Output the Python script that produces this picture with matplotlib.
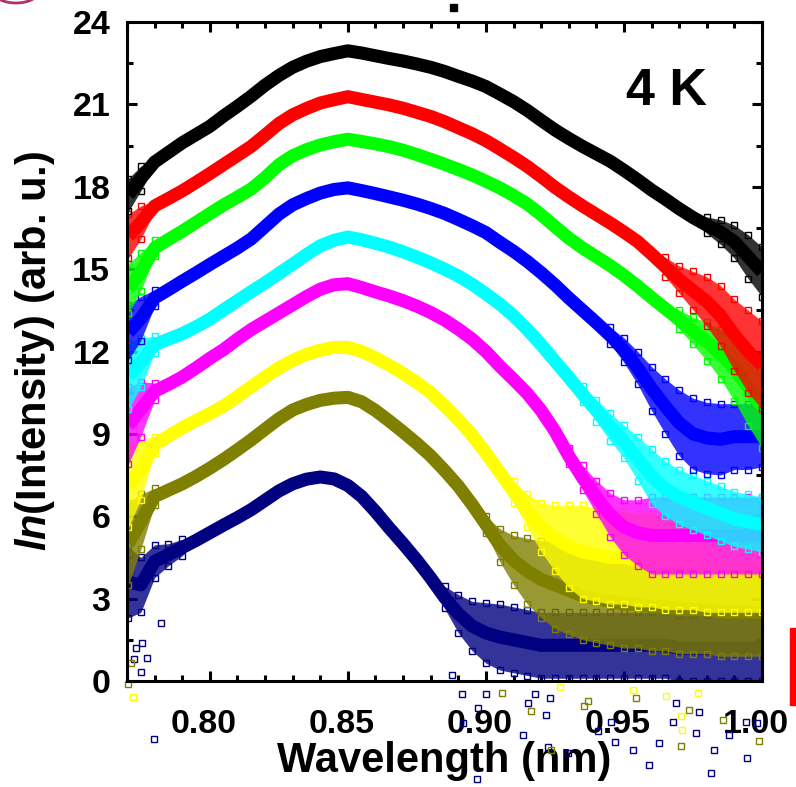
import matplotlib
matplotlib.use('Agg')
import matplotlib.pyplot as plt
import numpy as np
from matplotlib.ticker import MultipleLocator, FixedLocator
from matplotlib.transforms import ScaledTranslation
from matplotlib.patches import Rectangle, Ellipse

plt.rcParams['font.family'] = ['Liberation Sans', 'DejaVu Sans']
plt.rcParams['font.weight'] = 'bold'
plt.rcParams['mathtext.fontset'] = 'custom'
plt.rcParams['mathtext.it'] = 'Liberation Sans:italic:bold'
plt.rcParams['mathtext.rm'] = 'Liberation Sans:bold'
plt.rcParams['mathtext.bf'] = 'Liberation Sans:bold'

# ---------------- data ----------------
wavelength = [0.7705, 0.775, 0.78, 0.785, 0.79, 0.795, 0.80, 0.805, 0.81, 0.815,
              0.82, 0.825, 0.83, 0.835, 0.84, 0.845, 0.85, 0.855, 0.86, 0.865,
              0.87, 0.875, 0.88, 0.885, 0.89, 0.895, 0.90, 0.905, 0.91, 0.915,
              0.92, 0.925, 0.93, 0.935, 0.94, 0.945, 0.95, 0.955, 0.96, 0.965,
              0.97, 0.975, 0.98, 0.985, 0.99, 0.995, 1.00]

black = [17.7, 18.3, 18.9, 19.25, 19.6, 19.9, 20.2, 20.58, 20.93, 21.3,
         21.7, 22.05, 22.35, 22.57, 22.74, 22.85, 22.95, 22.87, 22.77, 22.67,
         22.58, 22.47, 22.35, 22.2, 22.02, 21.85, 21.65, 21.38, 21.1, 20.78,
         20.42, 20.07, 19.76, 19.47, 19.2, 18.93, 18.6, 18.25, 17.88, 17.55,
         17.2, 16.88, 16.6, 16.35, 16.0, 15.45, 14.9]
red = [16.2, 16.7, 17.3, 17.57, 17.85, 18.16, 18.48, 18.81, 19.14, 19.47,
       19.88, 20.3, 20.62, 20.85, 21.05, 21.17, 21.28, 21.18, 21.08, 20.98,
       20.86, 20.71, 20.56, 20.37, 20.15, 19.93, 19.68, 19.38, 19.07, 18.74,
       18.37, 17.98, 17.63, 17.3, 16.99, 16.68, 16.35, 16.0, 15.55, 15.08,
       14.62, 14.22, 13.82, 13.3, 12.6, 12.0, 11.5]
green = [14.3, 14.9, 15.77, 16.08, 16.38, 16.7, 17.02, 17.34, 17.62, 17.92,
         18.33, 18.8, 19.13, 19.35, 19.52, 19.64, 19.73, 19.65, 19.56, 19.46,
         19.33, 19.17, 19.0, 18.82, 18.63, 18.43, 18.2, 17.96, 17.68, 17.37,
         16.98, 16.55, 16.13, 15.77, 15.45, 15.13, 14.77, 14.38, 13.96, 13.56,
         13.16, 12.76, 12.36, 11.9, 11.4, 10.7, 10.0]
blue = [12.7, 13.2, 13.95, 14.25, 14.56, 14.86, 15.17, 15.47, 15.77, 16.1,
        16.55, 17.0, 17.34, 17.57, 17.77, 17.9, 17.96, 17.86, 17.75, 17.63,
        17.51, 17.37, 17.21, 17.03, 16.81, 16.58, 16.33, 15.98, 15.65, 15.28,
        14.87, 14.43, 13.95, 13.5, 13.05, 12.58, 12.05, 11.4, 10.65, 10.0,
        9.4, 9.0, 8.85, 8.8, 8.9, 8.9, 8.9]
cyan = [11.1, 11.6, 12.25, 12.45, 12.65, 12.9, 13.18, 13.52, 13.85, 14.18,
        14.5, 14.84, 15.18, 15.53, 15.85, 16.05, 16.17, 16.07, 15.94, 15.8,
        15.63, 15.44, 15.23, 15.0, 14.75, 14.45, 14.1, 13.73, 13.3, 12.8,
        12.25, 11.65, 11.06, 10.45, 9.85, 9.25, 8.72, 8.1, 7.45, 7.0,
        6.7, 6.5, 6.3, 6.1, 5.9, 5.8, 5.7]
magenta = [9.3, 9.9, 10.55, 10.8, 11.07, 11.4, 11.75, 12.07, 12.45, 12.8,
           13.1, 13.4, 13.7, 14.0, 14.27, 14.43, 14.47, 14.33, 14.17, 14.02,
           13.85, 13.65, 13.42, 13.15, 12.82, 12.45, 12.0, 11.47, 10.98, 10.47,
           9.85, 9.1, 8.2, 7.4, 6.7, 6.05, 5.6, 5.4, 5.3, 5.3,
           5.3, 5.3, 5.3, 5.3, 5.3, 5.3, 5.3]
yellow = [7.1, 7.7, 8.6, 8.92, 9.22, 9.49, 9.74, 10.02, 10.36, 10.72,
          11.07, 11.4, 11.68, 11.89, 12.05, 12.15, 12.15, 12.0, 11.77, 11.5,
          11.2, 10.87, 10.5, 10.03, 9.52, 8.95, 8.3, 7.6, 6.9, 6.2,
          5.6, 5.2, 4.9, 4.7, 4.6, 4.5, 4.5, 4.4, 4.4, 4.3,
          4.3, 4.3, 4.2, 4.2, 4.2, 4.2, 4.2]
olive = [5.0, 5.8, 6.72, 6.95, 7.18, 7.45, 7.75, 8.07, 8.42, 8.78,
         9.17, 9.55, 9.87, 10.07, 10.22, 10.3, 10.33, 10.17, 9.85, 9.47,
         9.07, 8.65, 8.2, 7.67, 7.1, 6.43, 5.7, 4.95, 4.4, 4.0,
         3.7, 3.5, 3.3, 3.1, 3.0, 2.9, 2.8, 2.8, 2.7, 2.7,
         2.6, 2.6, 2.6, 2.5, 2.5, 2.5, 2.5]
navy = [3.6, 3.5, 4.36, 4.6, 4.86, 5.12, 5.4, 5.68, 5.95, 6.24,
        6.58, 6.92, 7.18, 7.35, 7.43, 7.36, 7.12, 6.72, 6.17, 5.57,
        5.0, 4.4, 3.75, 3.05, 2.45, 2.0, 1.75, 1.6, 1.5, 1.4,
        1.3, 1.3, 1.3, 1.3, 1.3, 1.3, 1.3, 1.3, 1.3, 1.3,
        1.2, 1.2, 1.2, 1.2, 1.2, 1.2, 1.2]

# half-width of the noisy scatter cloud around each curve
black_spread = [0.6, 0.45, 0.15] + [0] * 38 + [0.1, 0.3, 0.45, 0.6, 0.8, 0.9]
red_spread = [0.8, 0.6, 0.2] + [0] * 35 + [0.2, 0.35, 0.5, 0.7, 0.9, 1.1, 1.3, 1.5, 1.6]
green_spread = [0.9, 0.7, 0.3] + [0] * 36 + [0.2, 0.35, 0.5, 0.7, 0.9, 1.2, 1.4, 1.5]
blue_spread = [1.0, 0.8, 0.3] + [0] * 31 + [0.2, 0.3, 0.45, 0.6, 0.8, 1.0, 1.2, 1.3, 1.3, 1.3, 1.2, 1.2, 1.1]
cyan_spread = [1.2, 0.9, 0.3] + [0] * 29 + [0.2, 0.3, 0.4, 0.5, 0.6, 0.8, 1.0, 1.0, 1.0, 1.0, 1.0, 1.0, 1.0, 1.0, 1.0]
magenta_spread = [1.4, 1.0, 0.3] + [0] * 28 + [0.2, 0.3, 0.45, 0.6, 0.8, 1.0, 1.2, 1.4, 1.4, 1.4, 1.4, 1.4, 1.4, 1.4, 1.4, 1.4]
yellow_spread = [1.5, 1.1, 0.3] + [0] * 24 + [0.2, 0.4, 0.6, 0.9, 1.2, 1.5] + [1.7] * 14
olive_spread = [1.5, 1.0, 0.3] + [0] * 23 + [0.3, 0.6, 0.9, 1.2, 1.4] + [1.6] * 16
navy_spread = [1.3, 1.0, 0.6, 0.4, 0.3] + [0] * 17 + [0.2, 0.4, 0.7, 0.9, 1.1] + [1.2] * 20

# isolated outlier points
navy_out_x = [0.8876, 0.8912, 0.9000, 0.8970, 0.8918, 0.9134, 0.9177, 0.9153, 0.9216, 0.9231,
              0.9225, 0.9297, 0.9405, 0.9454, 0.9466, 0.9532, 0.9592, 0.9628, 0.9689, 0.9676,
              0.9773, 0.9761, 0.9827, 0.9815, 0.9881, 0.9941, 0.9947, 0.9983, 0.8968, 0.7798,
              0.7822, 0.7750, 0.7774, 0.7732, 0.7756, 0.7725]
navy_out_y = [0.22, -0.47, -0.48, -1.0, -1.54, -1.97, -0.49, -0.81, -1.24, -0.63,
              -2.39, -2.63, -1.82, -1.48, -2.21, -2.51, -3.06, -2.27, -0.81, -1.48,
              -1.12, -1.91, -2.51, -3.36, -1.97, -1.48, -2.82, -1.54, -3.58, -2.12,
              2.12, 0.34, 0.83, 1.19, 1.37, 0.79]
olive_out_x = [0.9060, 0.9165, 0.9369, 0.9357, 0.9234, 0.9707, 0.9737, 0.9857, 0.9989, 0.9544, 0.7702, 0.7714]
olive_out_y = [-0.45, -1.08, -0.73, -0.91, -2.51, -2.37, -1.06, -1.42, -2.19, -0.63, -0.12, 0.64]
yellow_out_x = [0.9267, 0.9532, 0.9652, 0.9712, 0.9767, 0.9707, 0.7722]
yellow_out_y = [-0.23, -0.33, -0.53, -1.79, -0.45, -1.26, -0.58]

x_ticks = [0.80, 0.85, 0.90, 0.95, 1.00]
x_ticklabels = ['0.80', '0.85', '0.90', '0.95', '1.00']
y_ticks = [0, 3, 6, 9, 12, 15, 18, 21, 24]

# ---------------- figure ----------------
fig = plt.figure(figsize=(7.96, 7.87), dpi=100)
ax = fig.add_axes([127 / 796, 1 - 681 / 787, 635 / 796, 659 / 787])

wl = np.array(wavelength)
series = [
    (navy, navy_spread, '#000080'),
    (olive, olive_spread, '#808000'),
    (yellow, yellow_spread, '#FFFF00'),
    (magenta, magenta_spread, '#FF00FF'),
    (cyan, cyan_spread, '#00FFFF'),
    (blue, blue_spread, '#0000FF'),
    (green, green_spread, '#00FF00'),
    (red, red_spread, '#FF0000'),
    (black, black_spread, '#000000'),
]

for i, (mid, spr, col) in enumerate(series):
    mid = np.array(mid, dtype=float)
    spr = np.array(spr, dtype=float)
    lo, hi = mid - spr, mid + spr
    z = 2 + 3 * i
    ax.fill_between(wl, lo, hi, color=col, alpha=0.8, lw=0, zorder=z)
    ax.plot(wl, mid, color=col, lw=9.4, solid_capstyle='butt',
            solid_joinstyle='round', zorder=z + 1)
    m = spr >= 0.3
    for yy in (lo, hi):
        ax.plot(wl[m], yy[m], 's', mfc='none', mec=col, ms=4.6, mew=1.0,
                zorder=z + 2)

for ox, oy, col in [(navy_out_x, navy_out_y, '#000080'),
                    (olive_out_x, olive_out_y, '#808000'),
                    (yellow_out_x, yellow_out_y, '#FFFF00')]:
    ax.plot(ox, oy, 's', mfc='none', mec=col, ms=4.6, mew=1.0,
            clip_on=False, zorder=40)

ax.set_xlim(0.770, 1.0)
ax.set_ylim(0, 24)
ax.xaxis.set_major_locator(FixedLocator(x_ticks))
ax.set_xticklabels(x_ticklabels)
ax.xaxis.set_minor_locator(MultipleLocator(0.01))
ax.yaxis.set_major_locator(FixedLocator(y_ticks))
ax.yaxis.set_minor_locator(MultipleLocator(1.5))

for s in ax.spines.values():
    s.set_linewidth(2.2)
    s.set_zorder(50)
ax.tick_params(which='both', direction='in', top=True, right=True, width=2.2,
               labelsize=24.5)
ax.tick_params(which='major', length=7.5)
ax.tick_params(which='minor', length=4)
ax.tick_params(axis='x', which='major', pad=20)
ax.tick_params(axis='y', which='major', pad=12)
for lab in ax.get_xticklabels() + ax.get_yticklabels():
    lab.set_fontweight('bold')
off = ScaledTranslation(-0.06, 0, fig.dpi_scale_trans)
for lab in ax.get_xticklabels():
    lab.set_transform(lab.get_transform() + off)

ax.set_xlabel('Wavelength (nm)', fontsize=30, fontweight='bold')
ax.xaxis.set_label_coords(0.5, -0.091)
ax.set_ylabel(r'$\it{ln}$(Intensity) (arb. u.)', fontsize=30, fontweight='bold')
ax.yaxis.set_label_coords(-0.110, 0.5)

ax.text(0.849, 0.895, '4 K', transform=ax.transAxes, fontsize=37.5,
        fontweight='bold', ha='center', va='center', zorder=60)

# cropping artifacts present in the reference image
fig.patches.append(Rectangle((450 / 796, 1 - 11 / 787), 7 / 796, 7 / 787,
                             transform=fig.transFigure, color='black'))
fig.patches.append(Rectangle((790 / 796, 1 - 705 / 787), 7 / 796, 77 / 787,
                             transform=fig.transFigure, color='#FF0000'))
fig.patches.append(Ellipse((16 / 796, 1 + 8 / 787), 44 / 796, 22 / 787,
                           transform=fig.transFigure, fill=False,
                           edgecolor='#b0306a', lw=2))

fig.savefig('out.png', dpi=100)
